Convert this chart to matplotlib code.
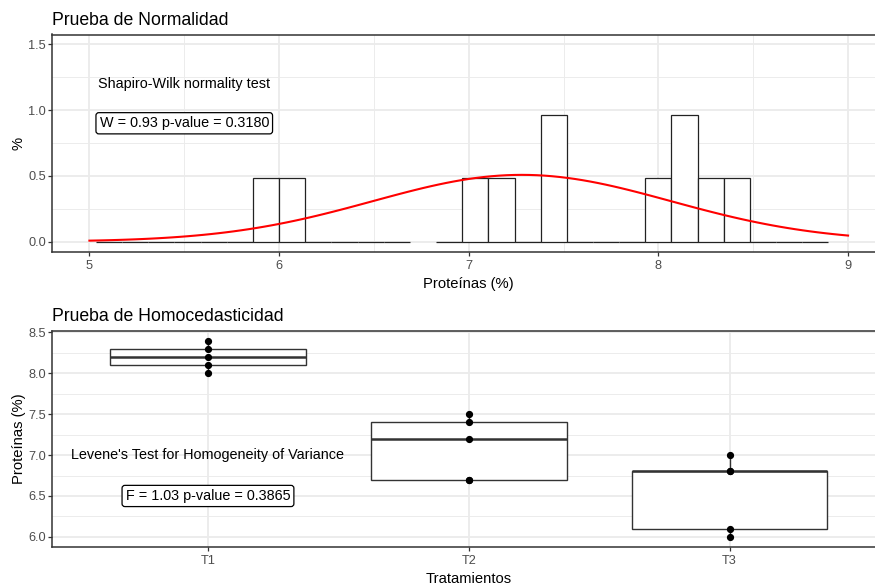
import numpy as np
import matplotlib
matplotlib.use("Agg")
import matplotlib.pyplot as plt
from matplotlib.ticker import MultipleLocator

plt.rcParams['font.family'] = ['Liberation Sans', 'DejaVu Sans']

# ---------------- data ----------------
treatments = ["T1", "T2", "T3"]
t1_values = [8.0, 8.1, 8.2, 8.3, 8.4]
t2_values = [6.7, 6.7, 7.2, 7.4, 7.5]
t3_values = [6.0, 6.1, 6.8, 6.8, 7.0]
all_values = np.array(t1_values + t2_values + t3_values)

x_limits = (5, 9)
y_hist_limit = 1.5
n_bins = 30

shapiro_title = "Shapiro-Wilk normality test"
shapiro_label = "W = 0.93 p-value = 0.3180"
levene_title = "Levene's Test for Homogeneity of Variance"
levene_label = "F = 1.03 p-value = 0.3865"

# ---------------- style ----------------
GRID = "#EBEBEB"
BORDER = "#333333"
TICKTXT = "#4D4D4D"
MAJ_LW = 1.3
MIN_LW = 0.65
DPI = 100
fig = plt.figure(figsize=(8.75, 5.88), dpi=DPI)

W, H = 875.0, 588.0
def axes_px(left, top, right, bottom):
    return fig.add_axes([left / W, 1 - bottom / H, (right - left) / W, (bottom - top) / H])

ax1 = axes_px(51.5, 34.5, 886.0, 251.5)
ax2 = axes_px(51.5, 330.7, 886.0, 546.7)

def style(ax):
    ax.set_facecolor("white")
    for s in ax.spines.values():
        s.set_color(BORDER)
        s.set_linewidth(1.1)
    ax.tick_params(axis="both", which="major", length=2.64, width=0.9, color=BORDER,
                   labelsize=9.2, labelcolor=TICKTXT)
    ax.tick_params(axis="x", which="major", pad=3.4)
    ax.tick_params(axis="y", which="major", pad=1.4)
    ax.tick_params(axis="both", which="minor", length=0)
    ax.grid(True, which="major", color=GRID, lw=MAJ_LW, zorder=0)
    ax.grid(True, which="minor", color=GRID, lw=MIN_LW, zorder=0)
    ax.set_axisbelow(True)

# ---------------- top: histogram ----------------
style(ax1)
bw = (x_limits[1] - x_limits[0]) / (n_bins - 1)
boundary = bw / 2
origin = boundary + np.floor((x_limits[0] - boundary) / bw) * bw
edges = origin + bw * np.arange(n_bins + 1)
counts, _ = np.histogram(all_values, bins=edges + 1e-7)
dens = counts / (len(all_values) * bw)
lefts = edges[:-1]
keep = (lefts >= x_limits[0] - 1e-9) & (edges[1:] <= x_limits[1] + 1e-9) & (dens <= y_hist_limit)
ax1.bar(lefts[keep], dens[keep], width=bw, align="edge", facecolor="white",
        edgecolor="#222222", linewidth=0.9, zorder=2)

mu = all_values.mean()
sd = all_values.std(ddof=1)
xs = np.linspace(x_limits[0], x_limits[1], 101)
ax1.plot(xs, np.exp(-0.5 * ((xs - mu) / sd) ** 2) / (sd * np.sqrt(2 * np.pi)),
         color="red", lw=1.5, zorder=3)

ax1.set_xlim(4.8, 9.2)
ax1.set_ylim(-0.075, 1.575)
ax1.xaxis.set_major_locator(MultipleLocator(1))
ax1.xaxis.set_minor_locator(MultipleLocator(0.5))
ax1.yaxis.set_major_locator(MultipleLocator(0.5))
ax1.yaxis.set_minor_locator(MultipleLocator(0.25))
ax1.yaxis.set_major_formatter(matplotlib.ticker.FormatStrFormatter("%.1f"))
ax1.set_xlabel("Proteínas (%)", fontsize=10.6, labelpad=3.5)
ax1.set_ylabel("%", fontsize=10.6, labelpad=2.2)
ax1.set_title("Prueba de Normalidad", loc="left", fontsize=12.7, pad=7)

ax1.text(5.5, 1.2, shapiro_title, ha="center", va="center", fontsize=10.4, zorder=4)
ax1.text(5.5, 0.9, shapiro_label, ha="center", va="center", fontsize=10.4, zorder=4,
         bbox=dict(boxstyle="round,pad=0.25,rounding_size=0.2", fc="white", ec="black", lw=0.9))

# ---------------- bottom: boxplot ----------------
style(ax2)
groups = [t1_values, t2_values, t3_values]
pos = np.arange(1, len(treatments) + 1)
ax2.boxplot(groups, positions=pos, widths=0.75, showcaps=False, showfliers=False,
            patch_artist=True, whis=1.5,
            boxprops=dict(facecolor="white", edgecolor=BORDER, linewidth=1.0),
            whiskerprops=dict(color=BORDER, linewidth=1.0),
            medianprops=dict(color=BORDER, linewidth=1.8),
            zorder=2)
for p, g in zip(pos, groups):
    ax2.plot([p] * len(g), g, "o", color="black", markersize=4.2, zorder=4)

ax2.set_xlim(0.4, 3.6)
ax2.set_ylim(5.88, 8.52)
ax2.set_xticks(pos)
ax2.set_xticklabels(treatments)
ax2.yaxis.set_major_locator(MultipleLocator(0.5))
ax2.yaxis.set_minor_locator(MultipleLocator(0.25))
ax2.yaxis.set_major_formatter(matplotlib.ticker.FormatStrFormatter("%.1f"))
ax2.xaxis.set_minor_locator(matplotlib.ticker.NullLocator())
ax2.set_xlabel("Tratamientos", fontsize=10.6, labelpad=3.5)
ax2.set_ylabel("Proteínas (%)", fontsize=10.6, labelpad=1.6)
ax2.set_title("Prueba de Homocedasticidad", loc="left", fontsize=12.7, pad=7)

ax2.text(1, 7.0, levene_title, ha="center", va="center", fontsize=10.4, zorder=5)
ax2.text(1, 6.5, levene_label, ha="center", va="center", fontsize=10.4, zorder=5,
         bbox=dict(boxstyle="round,pad=0.25,rounding_size=0.2", fc="white", ec="black", lw=0.9))

fig.savefig("out.png", dpi=DPI)
